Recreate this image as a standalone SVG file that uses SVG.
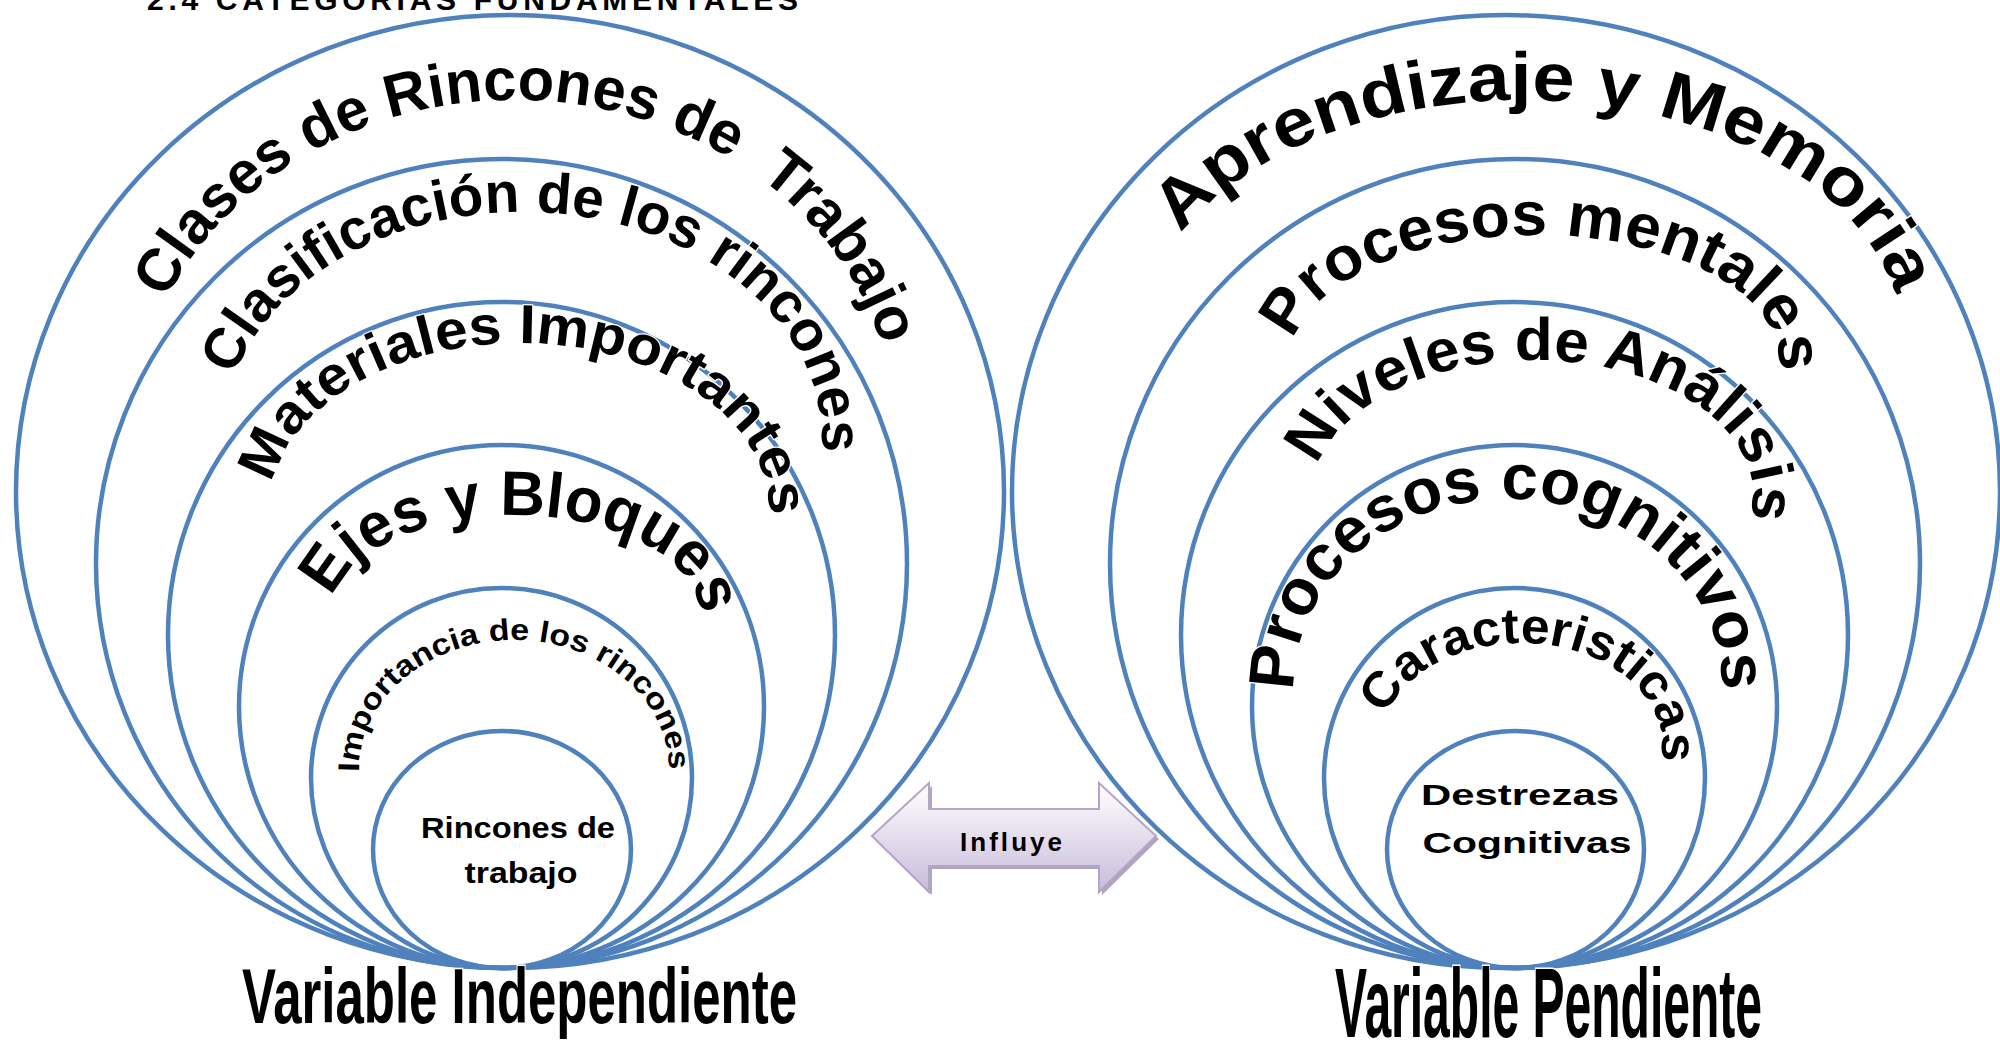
<svg xmlns="http://www.w3.org/2000/svg" width="2000" height="1040" viewBox="0 0 2000 1040">
<defs>
<style>
.ring{fill:none;stroke:#4F81BD;stroke-width:4.5}
.wa{font-family:"Liberation Sans",Arial,sans-serif;font-weight:bold;fill:#000;stroke:#fff;stroke-width:2.5;paint-order:stroke;stroke-linejoin:round}
.inner{font-family:"Liberation Sans",Arial,sans-serif;font-weight:bold;fill:#000;font-size:30px}
.var{font-family:"Liberation Sans",Arial,sans-serif;font-weight:bold;fill:#000;stroke:#fff;stroke-width:3;paint-order:stroke}
.title{font-family:"Liberation Sans",Arial,sans-serif;font-weight:bold;fill:#000;font-size:30px}
</style>
<linearGradient id="arrowFill" x1="0" y1="0" x2="0" y2="1">
<stop offset="0" stop-color="#FFFFFF"/>
<stop offset="1" stop-color="#C9BBDA"/>
</linearGradient>
<path id="p-l1" d="M143.7 361.3 A380 332 0 0 1 894.2 410.6"/>
<path id="p-l2" d="M223.4 417.8 A300 228 0 1 1 813.3 494.4"/>
<path id="p-l3" d="M269.1 514.1 A250 167 0 1 1 763.2 545.9"/>
<path id="p-l4" d="M330.0 617.1 A185 100 0 1 1 696.5 634.4"/>
<path id="p-l5" d="M362.5 797.5 A155 130 0 1 1 666.0 795.5"/>
<path id="p-r1" d="M1157.3 272.6 A380 240 0 0 1 1902.0 340.0"/>
<path id="p-r2" d="M1291.1 364.4 A244 125 0 1 1 1769.5 394.5"/>
<path id="p-r3" d="M1313.0 491.2 A220 134 0 1 1 1738.1 542.5"/>
<path id="p-r4" d="M1299.1 725.3 A214 186 0 1 1 1716.9 725.3"/>
<path id="p-r5" d="M1380.6 735.4 A141 102 0 1 1 1653.3 780.2"/>
</defs>
<rect width="2000" height="1040" fill="#fff"/>
<text class="title" x="147" y="9.5" textLength="651" lengthAdjust="spacing">2.4 CATEGORIAS FUNDAMENTALES</text>

<g id="independiente">
<g id="node-clases-rincones">
<ellipse class="ring" cx="510" cy="491.5" rx="494" ry="476.5"/>
<text class="wa" font-size="60" text-anchor="middle"><textPath href="#p-l1" startOffset="50%" textLength="895" lengthAdjust="spacingAndGlyphs">Clases de Rincones de&#160; Trabajo</textPath></text>
</g>
<g id="node-clasificacion">
<ellipse class="ring" cx="501.5" cy="563.5" rx="405.5" ry="404.5"/>
<text class="wa" font-size="57" text-anchor="middle"><textPath href="#p-l2" startOffset="50%" textLength="780" lengthAdjust="spacingAndGlyphs">Clasificación de los rincones</textPath></text>
</g>
<g id="node-materiales">
<ellipse class="ring" cx="501.5" cy="635" rx="333.5" ry="333"/>
<text class="wa" font-size="55" text-anchor="middle"><textPath href="#p-l3" startOffset="50%" textLength="640" lengthAdjust="spacingAndGlyphs">Materiales Importantes</textPath></text>
</g>
<g id="node-ejes">
<ellipse class="ring" cx="501.5" cy="706.5" rx="262.5" ry="261.5"/>
<text class="wa" font-size="63" text-anchor="middle"><textPath href="#p-l4" startOffset="50%" textLength="440" lengthAdjust="spacingAndGlyphs">Ejes y Bloques</textPath></text>
</g>
<g id="node-importancia">
<ellipse class="ring" cx="501.5" cy="778" rx="190.5" ry="190"/>
<text class="wa" font-size="30" text-anchor="middle"><textPath href="#p-l5" startOffset="50%" textLength="450" lengthAdjust="spacingAndGlyphs">Importancia de los rincones</textPath></text>
</g>
<g id="node-rincones">
<ellipse class="ring" cx="502" cy="849.5" rx="129" ry="118.5"/>
<text class="inner" x="518" y="838" text-anchor="middle" textLength="194" lengthAdjust="spacingAndGlyphs">Rincones de</text>
<text class="inner" x="521" y="883" text-anchor="middle" textLength="113" lengthAdjust="spacingAndGlyphs">trabajo</text>
</g>
<text class="var" x="242" y="1023" font-size="78" textLength="555" lengthAdjust="spacingAndGlyphs">Variable Independiente</text>
</g>

<g id="dependiente">
<g id="node-aprendizaje">
<ellipse class="ring" cx="1506" cy="491.5" rx="494" ry="476.5"/>
<text class="wa" font-size="68" text-anchor="middle"><textPath href="#p-r1" startOffset="50%" textLength="825" lengthAdjust="spacingAndGlyphs">Aprendizaje y Memoria</textPath></text>
</g>
<g id="node-procesos-mentales">
<ellipse class="ring" cx="1515" cy="563.5" rx="405" ry="404.5"/>
<text class="wa" font-size="62" text-anchor="middle"><textPath href="#p-r2" startOffset="50%" textLength="586" lengthAdjust="spacingAndGlyphs">Procesos mentales</textPath></text>
</g>
<g id="node-niveles">
<ellipse class="ring" cx="1514.5" cy="635" rx="333.5" ry="333"/>
<text class="wa" font-size="60" text-anchor="middle"><textPath href="#p-r3" startOffset="50%" textLength="560" lengthAdjust="spacingAndGlyphs">Niveles de Análisis</textPath></text>
</g>
<g id="node-procesos-cognitivos">
<ellipse class="ring" cx="1514.5" cy="706.5" rx="262.5" ry="261.5"/>
<text class="wa" font-size="64" text-anchor="middle"><textPath href="#p-r4" startOffset="50%" textLength="640" lengthAdjust="spacingAndGlyphs">Procesos cognitivos</textPath></text>
</g>
<g id="node-caracteristicas">
<ellipse class="ring" cx="1514.5" cy="778" rx="190.5" ry="190"/>
<text class="wa" font-size="50" text-anchor="middle"><textPath href="#p-r5" startOffset="50%" textLength="370" lengthAdjust="spacingAndGlyphs">Caracteristicas</textPath></text>
</g>
<g id="node-destrezas">
<ellipse class="ring" cx="1515.5" cy="849.5" rx="128.5" ry="118.5"/>
<text class="inner" x="1520" y="805" text-anchor="middle" textLength="198" lengthAdjust="spacingAndGlyphs">Destrezas</text>
<text class="inner" x="1527" y="853" text-anchor="middle" textLength="209" lengthAdjust="spacingAndGlyphs">Cognitivas</text>
</g>
<text class="var" x="1335" y="1037" font-size="98" textLength="427" lengthAdjust="spacingAndGlyphs">Variable Pendiente</text>
</g>

<g id="connectors">
<path d="M875 839 L932 786 L932 812 L1102 812 L1102 786 L1159 839 L1102 895 L1102 869 L932 869 L932 895 Z" fill="#9E99A8" opacity="0.85"/>
<path d="M872 836 L929 783 L929 809 L1099 809 L1099 783 L1156 836 L1099 892 L1099 866 L929 866 L929 892 Z" fill="url(#arrowFill)" stroke="#B4A3CB" stroke-width="2" stroke-linejoin="miter"/>
<text x="1011" y="851" font-family="Liberation Sans, Arial, sans-serif" font-weight="bold" font-size="26" text-anchor="middle" textLength="102" lengthAdjust="spacing">Influye</text>
</g>
</svg>
